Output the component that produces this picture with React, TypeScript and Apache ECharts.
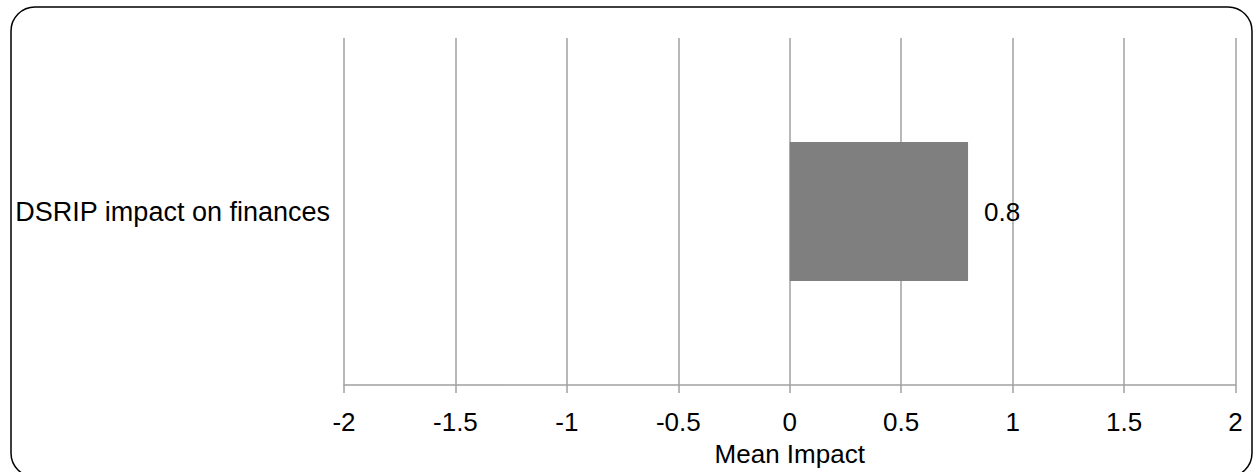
import React, { useEffect, useRef } from "react";
import * as echarts from "echarts";

const categories = ["DSRIP impact on finances"];
const meanImpact = [0.8];
const xMin = -2;
const xMax = 2;
const xInterval = 0.5;
const xAxisName = "Mean Impact";

export default function App() {
  const ref = useRef<HTMLDivElement>(null);
  useEffect(() => {
    if (!ref.current) return;
    const chart = echarts.init(ref.current, null, { renderer: "svg" });
    const font = "'Liberation Sans', Arial, sans-serif";
    chart.setOption({
      animation: false,
      backgroundColor: "#ffffff",
      textStyle: { fontFamily: font },
      grid: { left: 344, right: 1257 - 1235.5, top: 38, bottom: 472 - 386.5 },
      graphic: [
        {
          type: "rect",
          shape: { x: 11, y: 7, width: 1241, height: 470, r: 24 },
          style: { fill: "none", stroke: "#000000", lineWidth: 1.5 },
          silent: true,
          z: 100,
        },
      ],
      xAxis: {
        type: "value",
        min: xMin,
        max: xMax,
        interval: xInterval,
        name: xAxisName,
        nameLocation: "middle",
        nameGap: 56,
        nameTextStyle: { fontSize: 26, color: "#000", fontFamily: font },
        axisLine: { show: true, lineStyle: { color: "#a0a0a0", width: 1.5 } },
        axisTick: { show: true, length: 8, lineStyle: { color: "#a0a0a0", width: 1.5 } },
        axisLabel: { fontSize: 26, color: "#000", margin: 24, fontFamily: font },
        splitLine: { show: true, lineStyle: { color: "#a0a0a0", width: 1.5 } },
      },
      yAxis: {
        type: "category",
        data: categories,
        axisLine: { show: false },
        axisTick: { show: false },
        axisLabel: { fontSize: 27, color: "#000", margin: 14, fontFamily: font },
        splitLine: { show: false },
      },
      series: [
        {
          type: "bar",
          data: meanImpact,
          barWidth: "40%",
          itemStyle: { color: "#7f7f7f" },
          label: {
            show: true,
            position: "right",
            distance: 16,
            fontSize: 26,
            color: "#000",
            fontFamily: font,
          },
        },
      ],
    });
    return () => chart.dispose();
  }, []);
  return (
    <div
      ref={ref}
      style={{ position: "fixed", left: 0, top: 0, width: 1257, height: 472 }}
    />
  );
}
